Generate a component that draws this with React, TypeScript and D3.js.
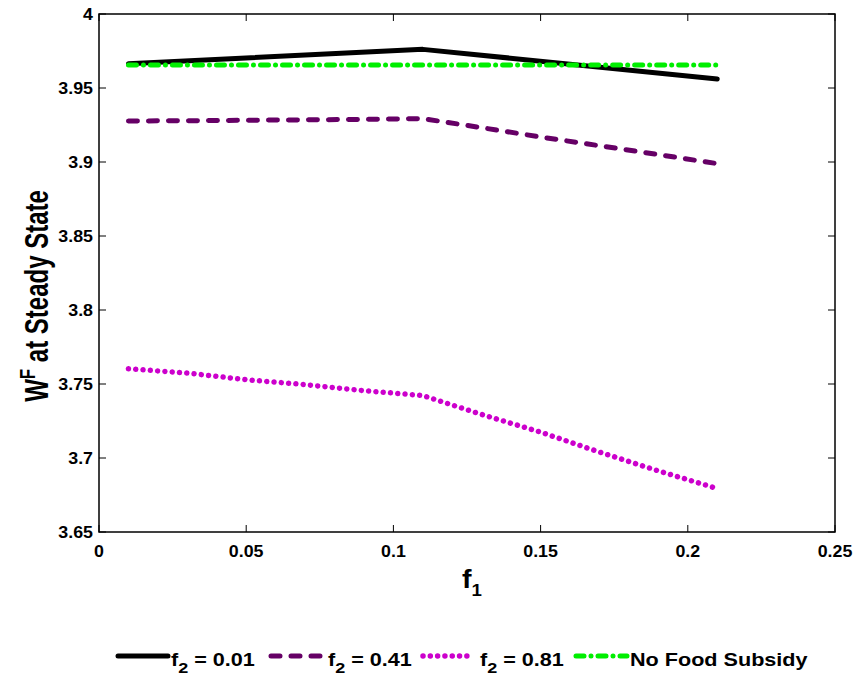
import React, { useEffect, useRef } from 'react';
import * as d3 from 'd3';

// f1 grid
const f1Grid = [0.01, 0.03, 0.05, 0.07, 0.09, 0.11, 0.13, 0.15, 0.17, 0.19, 0.21];
const f1Kinks = [0.01, 0.11, 0.21];
const f1Ends = [0.01, 0.21];

const wfLow = [3.9664, 3.9761, 3.9561]; // f2 = 0.01 (straight segments)
const wfMid = [3.9277, 3.9279, 3.9282, 3.9285, 3.9288, 3.9293, 3.9232, 3.9169, 3.911, 3.905, 3.8989]; // f2 = 0.41
const wfHigh = [3.7603, 3.7574, 3.7529, 3.7496, 3.7455, 3.7422, 3.7294, 3.7175, 3.704, 3.6913, 3.6794]; // f2 = 0.81
const wfNone = [3.9655, 3.9655]; // no food subsidy

const xTicks = [0, 0.05, 0.1, 0.15, 0.2, 0.25];
const xTickLabels = ['0', '0.05', '0.1', '0.15', '0.2', '0.25'];
const yTicks = [3.65, 3.7, 3.75, 3.8, 3.85, 3.9, 3.95, 4];
const yTickLabels = ['3.65', '3.7', '3.75', '3.8', '3.85', '3.9', '3.95', '4'];

const seriesNames = ['0.01', '0.41', '0.81', 'No Food Subsidy'];

const FONT = '"Liberation Sans", Arial, sans-serif';

// the figure text looks a bit stretched sideways, so text gets a small x scale
const addText = (parent: any, x: number, y: number, size: number, sx: number, anchor = 'start') =>
  parent.append('text')
    .attr('transform', `translate(${x},${y}) scale(${sx},1)`)
    .attr('text-anchor', anchor)
    .style('font-family', FONT)
    .style('font-weight', 'bold')
    .style('font-size', `${size}px`)
    .attr('fill', '#000');

const App = () => {
  const svgRef = useRef<SVGSVGElement>(null);

  useEffect(() => {
    const W = 858, H = 682;
    const margin = { top: 14, right: 23, bottom: 150, left: 99 };

    const svg = d3.select(svgRef.current);
    svg.selectAll('*').remove();
    svg.attr('width', W).attr('height', H);

    const x = d3.scaleLinear().domain([0, 0.25]).range([margin.left, W - margin.right]);
    const y = d3.scaleLinear().domain([3.65, 4]).range([H - margin.bottom, margin.top]);

    const x0 = x(0), x1 = x(0.25), y0 = y(3.65), y1 = y(4);

    svg.append('rect').attr('width', W).attr('height', H).attr('fill', '#fff');

    const series = [
      { xs: f1Kinks, ys: wfLow, color: '#000000', width: 5, dash: null, cap: 'round' },
      { xs: f1Grid, ys: wfMid, color: '#660066', width: 5, dash: '9 11', cap: 'round' },
      { xs: f1Grid, ys: wfHigh, color: '#cc00cc', width: 5.5, dash: '0.01 7.3', cap: 'round' },
      { xs: f1Ends, ys: wfNone, color: '#00ee00', width: 5, dash: '8 7 0.01 7', cap: 'round' },
    ];

    const line = d3.line<[number, number]>().x(d => x(d[0])).y(d => y(d[1]));

    series.forEach(s => {
      const pts = s.xs.map((v, i) => [v, s.ys[i]] as [number, number]);
      svg.append('path')
        .attr('d', line(pts))
        .attr('fill', 'none')
        .attr('stroke', s.color)
        .attr('stroke-width', s.width)
        .attr('stroke-linecap', s.cap)
        .attr('stroke-linejoin', 'round')
        .attr('stroke-dasharray', s.dash);
    });

    // frame and ticks
    const axis = svg.append('g').attr('stroke', '#000').attr('stroke-width', 1);
    axis.append('rect')
      .attr('x', x0).attr('y', y1)
      .attr('width', x1 - x0).attr('height', y0 - y1)
      .attr('fill', 'none').attr('stroke-width', 1.5);

    const tl = 7;
    xTicks.forEach(t => {
      axis.append('line').attr('x1', x(t)).attr('x2', x(t)).attr('y1', y0).attr('y2', y0 - tl);
      axis.append('line').attr('x1', x(t)).attr('x2', x(t)).attr('y1', y1).attr('y2', y1 + tl);
    });
    yTicks.forEach(t => {
      axis.append('line').attr('x1', x0).attr('x2', x0 + tl).attr('y1', y(t)).attr('y2', y(t));
      axis.append('line').attr('x1', x1).attr('x2', x1 - tl).attr('y1', y(t)).attr('y2', y(t));
    });

    xTicks.forEach((t, i) => {
      addText(svg, x(t), y0 + 25, 16.5, 1.08, 'middle').text(xTickLabels[i]);
    });
    yTicks.forEach((t, i) => {
      addText(svg, x0 - 6, y(t) + 6, 16.5, 1.08, 'end').text(yTickLabels[i]);
    });

    // axis titles
    const yTitle = svg.append('text')
      .attr('transform', `translate(48,296) scale(1.35,1) rotate(-90)`)
      .attr('text-anchor', 'middle')
      .style('font-family', FONT)
      .style('font-weight', 'bold')
      .style('font-size', '24px');
    yTitle.append('tspan').text('W');
    yTitle.append('tspan').attr('dy', -10).style('font-size', '17px').text('F');
    yTitle.append('tspan').attr('dy', 10).text(' at Steady State');

    const xTitle = addText(svg, 462, 588, 26, 1.1);
    xTitle.append('tspan').text('f');
    xTitle.append('tspan').attr('dy', 8).style('font-size', '17px').text('1');

    // legend
    const legendX = [118, 271, 423, 576];
    const legendLen = [50, 54, 49, 51];
    const ly = 656;
    const legend = svg.append('g');
    series.forEach((s, i) => {
      legend.append('line')
        .attr('x1', legendX[i]).attr('x2', legendX[i] + legendLen[i])
        .attr('y1', ly).attr('y2', ly)
        .attr('stroke', s.color)
        .attr('stroke-width', s.width)
        .attr('stroke-linecap', s.cap)
        .attr('stroke-dasharray', s.dash);
      const t = addText(legend, legendX[i] + legendLen[i] + (i === 2 ? 8 : 3), ly + 10, 18, 1.2);
      if (i < 3) {
        t.append('tspan').text('f');
        t.append('tspan').attr('dy', 7).style('font-size', '15px').text('2');
        t.append('tspan').attr('dy', -7).text(` = ${seriesNames[i]}`);
      } else {
        t.text(seriesNames[i]);
      }
    });
  }, []);

  return (
    <svg ref={svgRef} style={{ position: 'absolute', left: 0, top: 0, display: 'block' }} />
  );
};

export default App;
